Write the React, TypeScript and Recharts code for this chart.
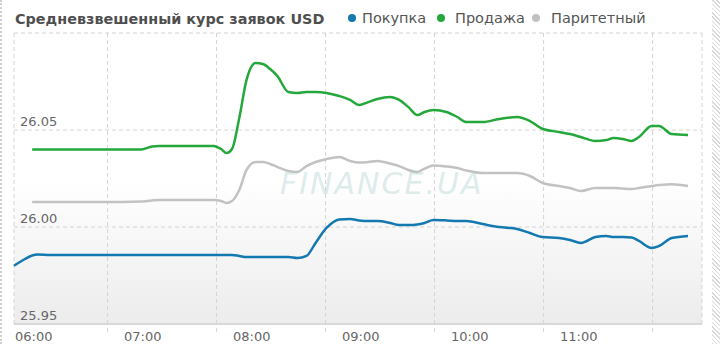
import { LineChart, Line, XAxis, YAxis, CartesianGrid } from 'recharts'

// minutes after 06:00
const minutes = [0, 6, 10, 13, 20, 40, 60, 70, 76, 80, 100, 110, 114, 117, 120, 124, 128, 133, 137, 141, 145, 151, 156, 161, 166, 172, 179, 185, 190, 195, 200, 207, 212, 217, 222, 226, 231, 238, 244, 249, 258, 267, 277, 284, 291, 300, 306, 312, 320, 326, 330, 335, 340, 344, 351, 355, 362, 371]

const buy = [
  25.98, 25.9835, 25.9853, 25.9858, 25.9856,
  25.9856, 25.9856, 25.9856, 25.9856, 25.9856,
  25.9856, 25.9856, 25.9856, 25.9856, 25.9856,
  25.9851, 25.9845, 25.9845, 25.9845, 25.9845,
  25.9845, 25.9845, 25.984, 25.9851, 25.9918,
  25.9995, 26.0039, 26.0041, 26.0034, 26.0031,
  26.0031, 26.0021, 26.001, 26.001, 26.0013,
  26.0021, 26.0036, 26.0034, 26.0031, 26.0031,
  26.0015, 26.0, 25.999, 25.9969, 25.9948,
  25.9943, 25.9933, 25.9918, 25.9948, 25.9954,
  25.9948, 25.9948, 25.9946, 25.9928, 25.9892,
  25.9902, 25.9943, 25.9954,
]

const sell = [
  null, null, 26.04, 26.04, 26.04,
  26.04, 26.04, 26.04, 26.0415, 26.0418,
  26.0418, 26.0418, 26.0402, 26.0381, 26.0402,
  26.0562, 26.0758, 26.0845, 26.084, 26.0814,
  26.0778, 26.0696, 26.0691, 26.0696, 26.0696,
  26.0691, 26.0675, 26.0655, 26.0629, 26.0644,
  26.066, 26.067, 26.0655, 26.0619, 26.0577,
  26.0593, 26.0603, 26.0593, 26.0567, 26.0541,
  26.0541, 26.0557, 26.0567, 26.0546, 26.0505,
  26.049, 26.0479, 26.0464, 26.0443, 26.0448,
  26.0459, 26.0454, 26.0443, 26.0464, 26.0521,
  26.0521, 26.0479, 26.0474,
]

const parity = [
  null, null, 26.0129, 26.0129, 26.0129,
  26.0129, 26.0129, 26.0131, 26.0137, 26.0139,
  26.0139, 26.0139, 26.0134, 26.0124, 26.0134,
  26.0191, 26.0294, 26.0335, 26.0335, 26.0325,
  26.0309, 26.0289, 26.0284, 26.0314, 26.0335,
  26.035, 26.0361, 26.034, 26.0332, 26.0335,
  26.034, 26.0327, 26.0314, 26.0294, 26.0284,
  26.0301, 26.0317, 26.0312, 26.0304, 26.0291,
  26.0278, 26.0278, 26.0278, 26.0263, 26.0227,
  26.0211, 26.0201, 26.0186, 26.0201, 26.0201,
  26.0201, 26.0198, 26.0196, 26.0201, 26.0211,
  26.0216, 26.0221, 26.0211,
]

const hourTicks = [0, 60, 120, 180, 240, 300]
const hourLabels = ['06:00', '07:00', '08:00', '09:00', '10:00', '11:00']
const gridMinutes = [51.5, 111.5, 171.5, 231.5, 291.5, 351.5]
const yTicks = [25.95, 26.0, 26.05, 26.1]
const yLabels = ['25.95', '26.00', '26.05', '']

const title = 'Средневзвешенный курс заявок USD'
const seriesNames = ['Покупка', 'Продажа', 'Паритетный']
const colors = ['#1379b0', '#25a83b', '#c2c2c2']

const data = minutes.map((t, i) => ({ t, buy: buy[i], sell: sell[i], parity: parity[i] }))

const font = '"DejaVu Sans", Verdana, sans-serif'

function YTick(props: any) {
  const { y, index } = props
  return (
    <text x={20} y={y - 4} textAnchor="start" fontSize={13} fill="#666" fontFamily={font}>
      {yLabels[index]}
    </text>
  )
}

function XTick(props: any) {
  const { x, y, index } = props
  return (
    <text x={x + 1} y={y + 16} textAnchor="start" fontSize={13} fill="#666" fontFamily={font}>
      {hourLabels[index]}
    </text>
  )
}

const NoTick = () => <g />

export default function App() {
  const legendX = [352, 441, 536]
  return (
    <div style={{ position: 'fixed', left: 0, top: 0, width: 720, height: 344, background: '#fff', fontFamily: font }}>
      <div style={{ position: 'absolute', left: 0, top: 0, width: 2, height: 344, borderLeft: '2px dotted #cfcfcf', boxSizing: 'border-box' }} />
      <div style={{ position: 'absolute', left: 712, top: 0, width: 8, height: 344, background: 'repeating-linear-gradient(45deg, #d8d8d8 0 1px, #fff 1px 3px)' }} />
      <div style={{ position: 'absolute', left: 15, top: 11, fontSize: 14.4, fontWeight: 'bold', color: '#4f4f4f', whiteSpace: 'nowrap' }}>
        {title}
      </div>
      {seriesNames.map((name, i) => (
        <div key={name} style={{ position: 'absolute', left: legendX[i] - 4, top: 10, display: 'flex', alignItems: 'center', whiteSpace: 'nowrap', fontSize: 14.5, color: '#555' }}>
          <span style={{ width: 8, height: 8, borderRadius: 4, background: colors[i], marginRight: i === 0 ? 6 : i === 1 ? 10 : 11, display: 'inline-block' }} />
          {name}
        </div>
      ))}
      <LineChart width={720} height={344} data={data} margin={{ top: 33, right: 18, bottom: 0, left: 14 }}>
        <defs>
          <linearGradient id="plotBg" x1="0" y1="0" x2="0" y2="1">
            <stop offset="0.5" stopColor="#ffffff" />
            <stop offset="1" stopColor="#ececec" />
          </linearGradient>
        </defs>
        <CartesianGrid stroke="#d4d4d4" strokeDasharray="4 3" fill="url(#plotBg)" />
        <XAxis
          dataKey="t"
          type="number"
          domain={[0, 378.7]}
          ticks={gridMinutes}
          interval={0}
          tick={<NoTick />}
          height={1}
          tickSize={8}
          tickLine={{ stroke: '#d4d4d4', strokeDasharray: '4 3' }}
          axisLine={{ stroke: '#d8d8d8', strokeWidth: 2 }}
        />
        <XAxis
          xAxisId="labels"
          dataKey="t"
          type="number"
          domain={[0, 378.7]}
          ticks={hourTicks}
          interval={0}
          height={19}
          tickSize={0}
          tickMargin={0}
          axisLine={false}
          tickLine={false}
          tick={<XTick />}
        />
        <YAxis
          type="number"
          domain={[25.95, 26.1]}
          ticks={yTicks}
          interval={0}
          mirror
          width={60}
          tickSize={0}
          tickMargin={0}
          axisLine={false}
          tickLine={false}
          tick={<YTick />}
        />
        <Line type="monotone" dataKey="buy" stroke={colors[0]} strokeWidth={2.5} dot={false} isAnimationActive={false} />
        <Line type="monotone" dataKey="sell" stroke={colors[1]} strokeWidth={2.5} dot={false} isAnimationActive={false} />
        <Line type="monotone" dataKey="parity" stroke={colors[2]} strokeWidth={2.5} dot={false} isAnimationActive={false} />
      </LineChart>
      <div style={{ position: 'absolute', left: 280, top: 166, fontSize: 30, fontStyle: 'italic', letterSpacing: 2, color: 'rgba(170,205,205,0.4)', fontFamily: '"DejaVu Sans", sans-serif', pointerEvents: 'none' }}>
        FINANCE.UA
      </div>
    </div>
  )
}
